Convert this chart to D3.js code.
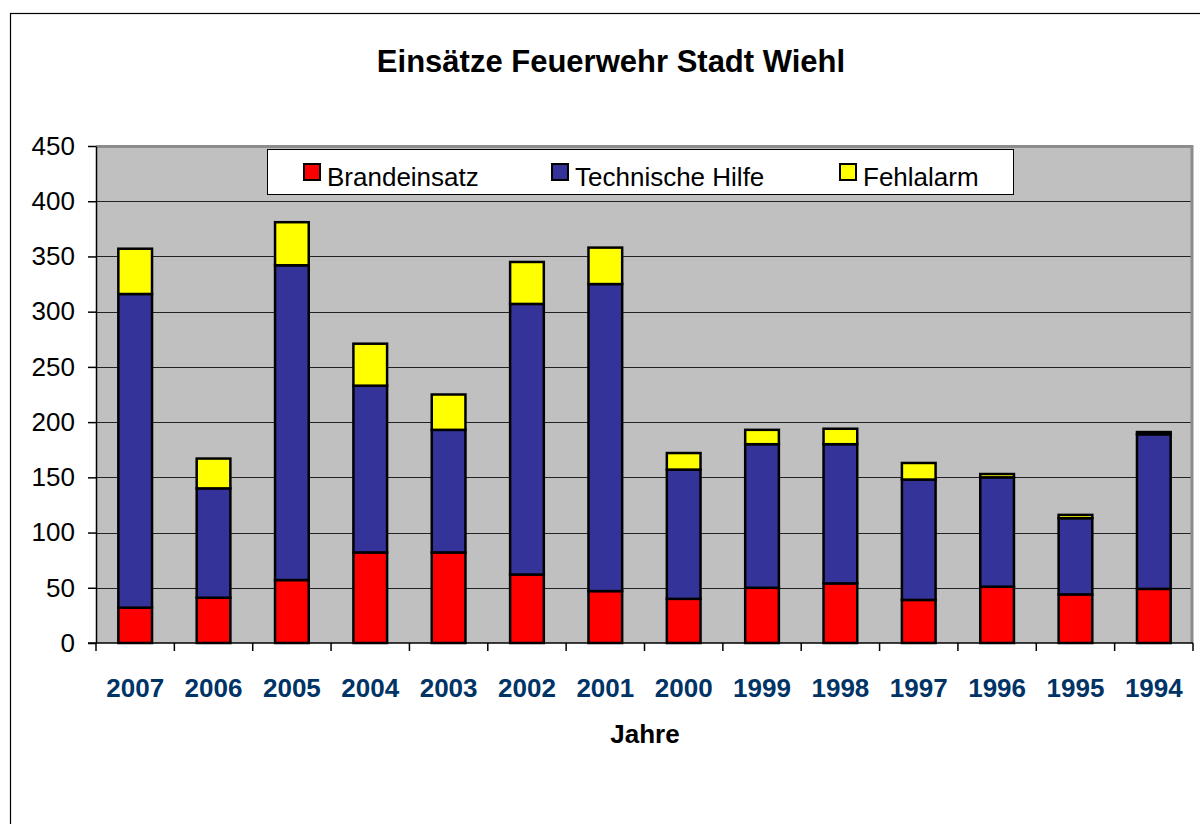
<!DOCTYPE html>
<html>
<head>
<meta charset="utf-8">
<script src="https://cdn.jsdelivr.net/npm/d3@7"></script>
<style>
  body { margin: 0; background: #fff; }
  svg { display: block; font-family: "Liberation Sans", Arial, sans-serif; }
</style>
</head>
<body>
<div id="chart"></div>
<script>
// data
const years = ["2007", "2006", "2005", "2004", "2003", "2002", "2001", "2000", "1999", "1998", "1997", "1996", "1995", "1994"];
const brandeinsatz = [32, 41, 57, 82, 82, 62, 47, 40, 50, 54, 39, 51, 44, 49];
const technischeHilfe = [284, 99, 285, 151, 111, 245, 278, 117, 130, 126, 109, 99, 69, 140];
const fehlalarm = [41, 27, 39, 38, 32, 38, 33, 15, 13, 14, 15, 3, 3, 2];
const seriesNames = ["Brandeinsatz", "Technische Hilfe", "Fehlalarm"];
const seriesColors = ["#ff0000", "#333399", "#ffff00"];
const yTicks = [0, 50, 100, 150, 200, 250, 300, 350, 400, 450];

const W = 1200, H = 824;
const margin = {top: 146, right: 7, bottom: 181, left: 96};
const width = W - margin.left - margin.right,
      height = H - margin.top - margin.bottom;

let svg = d3.select("#chart").append("svg")
    .attr("width", W)
    .attr("height", H);

// outer chart frame (runs off right and bottom edge)
svg.append("rect")
    .attr("x", 10.5).attr("y", 13.5)
    .attr("width", 1300).attr("height", 900)
    .attr("fill", "#fff")
    .attr("stroke", "#000")
    .attr("stroke-width", 1.2);

svg.append("text")
    .attr("x", 611)
    .attr("y", 72)
    .attr("text-anchor", "middle")
    .attr("font-size", 31)
    .attr("font-weight", "bold")
    .text("Einsätze Feuerwehr Stadt Wiehl");

let g = svg.append("g").attr("transform", "translate(" + margin.left + "," + margin.top + ")");

let xScale = d3.scaleBand()
    .domain(years)
    .range([0, width])
    .paddingInner(0.57)
    .paddingOuter(0.285);

let yScale = d3.scaleLinear()
    .domain([0, 450])
    .range([height, 0]);

// plot background
g.append("rect")
    .attr("width", width)
    .attr("height", height)
    .attr("fill", "#c0c0c0");

// gridlines
g.selectAll("line.grid")
    .data(yTicks.filter(d => d > 0))
    .enter().append("line")
    .attr("class", "grid")
    .attr("x1", 0).attr("x2", width)
    .attr("y1", d => Math.round(yScale(d)) + 0.5)
    .attr("y2", d => Math.round(yScale(d)) + 0.5)
    .attr("stroke", "#222")
    .attr("stroke-width", 1);

// top and right edge of the plot area
g.append("path")
    .attr("d", "M0,0.5H" + (width - 1) + "V" + height)
    .attr("fill", "none")
    .attr("stroke", "#8c8c8c")
    .attr("stroke-width", 3);

// stacked bars
let rows = years.map((y, i) => ({year: y, b: brandeinsatz[i], t: technischeHilfe[i], f: fehlalarm[i]}));
let stack = d3.stack().keys(["b", "t", "f"])(rows);

let layers = g.selectAll("g.layer")
    .data(stack)
    .enter().append("g")
    .attr("class", "layer")
    .attr("fill", (d, i) => seriesColors[i]);

layers.selectAll("rect")
    .data(d => d)
    .enter().append("rect")
    .attr("x", d => xScale(d.data.year))
    .attr("y", d => yScale(d[1]))
    .attr("width", xScale.bandwidth())
    .attr("height", d => yScale(d[0]) - yScale(d[1]))
    .attr("stroke", "#000")
    .attr("stroke-width", 2.5);

// y axis
let yAxis = g.append("g")
    .call(d3.axisLeft(yScale).tickValues(yTicks).tickSize(8).tickPadding(13).tickSizeOuter(0));
yAxis.select(".domain").attr("stroke", "#000").attr("stroke-width", 1.5);
yAxis.selectAll(".tick line").attr("stroke", "#000").attr("stroke-width", 1.5);
yAxis.selectAll("text")
    .attr("font-size", 26)
    .attr("font-family", "Liberation Sans, Arial, sans-serif")
    .attr("fill", "#000");

// x axis: ticks between categories
let xAxis = g.append("g").attr("transform", "translate(0," + height + ")");
xAxis.append("line")
    .attr("x1", -8).attr("x2", width)
    .attr("stroke", "#000").attr("stroke-width", 1.5);
let bounds = years.map(y => xScale(y) - xScale.step() * xScale.paddingInner() / 2).concat([width]);
xAxis.selectAll("line.xt")
    .data(bounds)
    .enter().append("line")
    .attr("class", "xt")
    .attr("x1", d => d).attr("x2", d => d)
    .attr("y1", 0).attr("y2", 8)
    .attr("stroke", "#000").attr("stroke-width", 1.5);
xAxis.selectAll("text.xl")
    .data(years)
    .enter().append("text")
    .attr("class", "xl")
    .attr("x", d => xScale(d) + xScale.bandwidth() / 2)
    .attr("y", 54)
    .attr("text-anchor", "middle")
    .attr("font-size", 26)
    .attr("font-weight", "bold")
    .attr("fill", "#003366")
    .text(d => d);

svg.append("text")
    .attr("x", 645)
    .attr("y", 743)
    .attr("text-anchor", "middle")
    .attr("font-size", 26)
    .attr("font-weight", "bold")
    .text("Jahre");

// legend
let legend = svg.append("g");
legend.append("rect")
    .attr("x", 267.5).attr("y", 149.5)
    .attr("width", 746).attr("height", 45)
    .attr("fill", "#fff")
    .attr("stroke", "#000")
    .attr("stroke-width", 1);

let legendX = [304, 552, 840];
let items = legend.selectAll("g.item")
    .data(seriesNames)
    .enter().append("g")
    .attr("class", "item")
    .attr("transform", (d, i) => "translate(" + legendX[i] + ",164)");
items.append("rect")
    .attr("width", 16).attr("height", 16)
    .attr("fill", (d, i) => seriesColors[i])
    .attr("stroke", "#000")
    .attr("stroke-width", 2);
items.append("text")
    .attr("x", 23)
    .attr("y", 22)
    .attr("font-size", 26)
    .text(d => d);
</script>
</body>
</html>
